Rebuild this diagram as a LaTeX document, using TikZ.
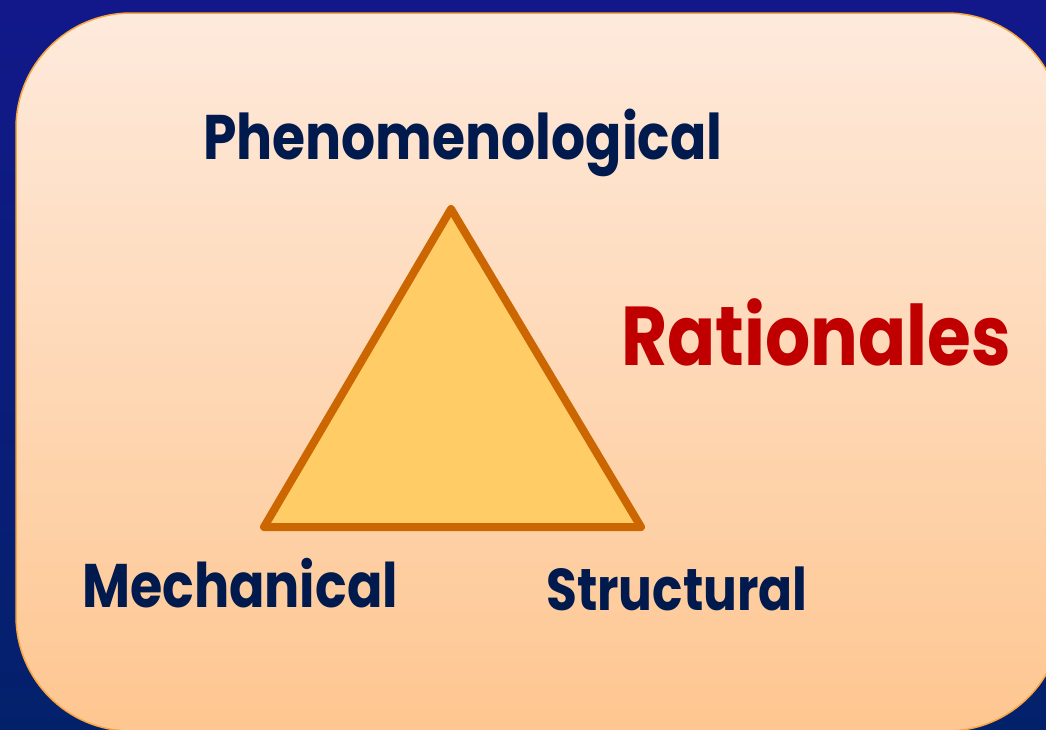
\documentclass[tikz,border=0pt]{standalone}
\usepackage{fontspec}
\newfontfamily\labelfont{Poppins}[FakeStretch=0.85]
\usetikzlibrary{positioning}

\definecolor{deepblue}{HTML}{12188A}
\definecolor{deepblueb}{HTML}{03216B}
\definecolor{paneltop}{HTML}{FEEADC}
\definecolor{panelbot}{HTML}{FEC690}
\definecolor{panelrim}{HTML}{F7A53E}
\definecolor{trifill}{HTML}{FFCC66}
\definecolor{triline}{HTML}{CC6600}
\definecolor{navy}{HTML}{001A4E}
\definecolor{darkred}{HTML}{C00000}

\tikzset{
  corner/.style={font=\labelfont\bfseries\fontsize{#1}{#1}\selectfont, text=navy, inner sep=0pt, anchor=base west},
  title/.style={font=\labelfont\bfseries\fontsize{#1}{#1}\selectfont, text=darkred, inner sep=0pt, anchor=base west}
}

\begin{document}
\begin{tikzpicture}[x=1pt,y=-1pt]
\useasboundingbox (0,0) rectangle (1046,729);
\clip (0,0) rectangle (1046,729);

% background and panel
\shade[top color=deepblue, bottom color=deepblueb] (0,0) rectangle (1046,729);
\shade[top color=paneltop, bottom color=panelbot, draw=panelrim, line width=1.5pt,
       rounded corners=115pt] (16,13) rectangle (1062,731);

% triangle
\coordinate (apex) at (451,209);
\coordinate (bl) at (264,527);
\coordinate (br) at (641,527);
\draw[fill=trifill, draw=triline, line width=8pt, line join=round] (apex) -- (bl) -- (br) -- cycle;

% labels
\node (phen) [corner=63] at (203,159) {Phenomenological};
\node (mech) [corner=61.5] at (82,607) {Mechanical};
\node (struct) [corner=59] at (546,610) {Structural};
\node (rat) [title=83.5] at (621,365) {Rationales};

\end{tikzpicture}
\end{document}
